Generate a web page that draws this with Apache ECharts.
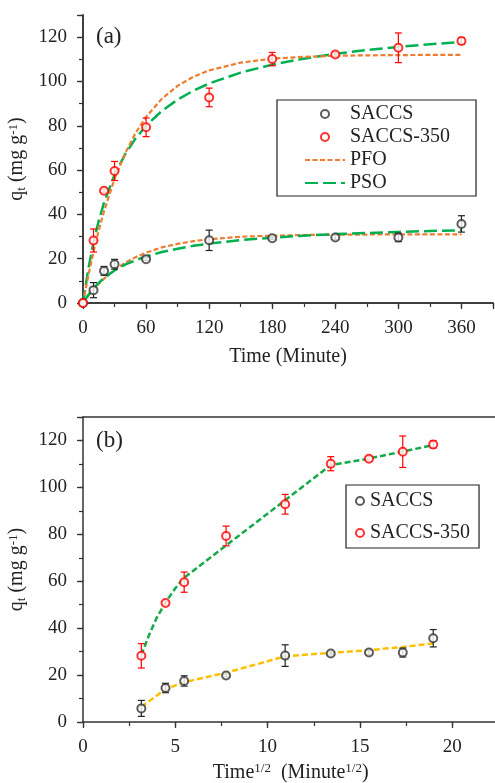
<!DOCTYPE html>
<html><head><meta charset="utf-8">
<script src="https://cdn.jsdelivr.net/npm/echarts@6/dist/echarts.min.js"></script>
<style>html,body{margin:0;padding:0;background:#fff}#c{width:495px;height:783px}</style>
</head><body><div id="c"></div>
<script>
// ---- data ----
const timeMin = [0, 10, 20, 30, 60, 120, 180, 240, 300, 360];
const saccsQ = [0, 5.8, 14.5, 17.5, 19.8, 28.3, 29.2, 29.6, 29.6, 35.7];
const saccsErr = [0, 3.4, 2.0, 2.2, 0.6, 4.6, 0.6, 0.9, 1.9, 3.7];
const saccs350Q = [0, 28.2, 50.7, 59.6, 79.3, 92.8, 110.1, 112.2, 115.2, 118.3];
const saccs350Err = [0, 5.2, 0.8, 4.3, 4.2, 4.2, 3.0, 1.0, 6.7, 1.5];

// fitted curves
const fitTime = [0, 5, 10, 15, 20, 30, 40, 50, 60, 75, 90, 105, 120, 150, 180, 210, 240, 270, 300, 330, 360];
const pfoSaccs = [0, 3.2, 6.1, 8.7, 11.0, 15.0, 18.1, 20.7, 22.7, 25.1, 26.7, 27.9, 28.8, 29.9, 30.4, 30.7, 30.8, 30.9, 31.0, 31.0, 31.0];
const psoSaccs = [0, 3.6, 6.6, 9.1, 11.3, 14.7, 17.3, 19.3, 21.0, 23.0, 24.5, 25.8, 26.8, 28.4, 29.5, 30.4, 31.1, 31.6, 32.1, 32.5, 32.8];
const pfoSaccs350 = [0, 12.2, 23.1, 32.8, 41.4, 56.0, 67.5, 76.7, 84.0, 92.2, 98.0, 102.1, 105.0, 108.5, 110.3, 111.1, 111.6, 111.8, 111.9, 112.0, 112.0];
const psoSaccs350 = [0, 15.3, 27.4, 37.2, 45.3, 57.8, 67.1, 74.3, 80.0, 86.7, 91.8, 95.8, 99.1, 104.0, 107.6, 110.3, 112.5, 114.2, 115.6, 116.8, 117.8];

// panel (b): square root of time
const sqrtTime = [3.16, 4.47, 5.48, 7.75, 10.95, 13.42, 15.49, 17.32, 18.97];
const saccsQb = [5.8, 14.5, 17.5, 19.8, 28.3, 29.2, 29.6, 29.6, 35.7];
const saccsErrb = [3.4, 2.0, 2.2, 0.6, 4.6, 0.6, 0.9, 1.9, 3.7];
const saccs350Qb = [28.2, 50.7, 59.6, 79.3, 92.8, 110.1, 112.2, 115.2, 118.3];
const saccs350Errb = [5.2, 0.8, 4.3, 4.2, 4.2, 3.0, 1.0, 6.7, 1.5];
const ipdX350 = [3.16, 3.6, 4.0, 4.47, 5.0, 5.48, 13.42, 15.49, 17.32, 18.97];
const ipdY350 = [28.5, 37.5, 44.5, 51.0, 57.0, 61.5, 109.5, 112.3, 115.3, 118.0];
const ipdXSaccs = [3.16, 4.47, 5.48, 7.75, 10.95, 13.42, 15.49, 17.32, 18.97];
const ipdYSaccs = [6.5, 14.0, 17.0, 21.0, 28.0, 29.5, 30.6, 32.0, 33.5];

const yTicks = [0, 20, 40, 60, 80, 100, 120];

// ---- helpers ----
const FONT = '"Liberation Serif", "Times New Roman", serif';
const zip = (a, b) => a.map((v, i) => [v, b[i]]);
const zip3 = (a, b, c) => a.map((v, i) => [v, b[i], c[i]]);

function errRender(color) {
  return function (params, api) {
    const x = api.value(0), y = api.value(1), e = api.value(2);
    if (!e) return null;
    const t = api.coord([x, y + e]), b = api.coord([x, y - e]);
    const w = 3.5, st = { stroke: color, lineWidth: 1.2 };
    return { type: 'group', children: [
      { type: 'line', shape: { x1: t[0], y1: t[1], x2: b[0], y2: b[1] }, style: st },
      { type: 'line', shape: { x1: t[0] - w, y1: t[1], x2: t[0] + w, y2: t[1] }, style: st },
      { type: 'line', shape: { x1: b[0] - w, y1: b[1], x2: b[0] + w, y2: b[1] }, style: st }
    ]};
  };
}

const axLine = { show: true, lineStyle: { color: '#333', width: 1.5 } };
const labelStyle = { color: '#222', fontSize: 19, fontFamily: FONT };

function mainX(grid, max, interval, name, gap, hideAbove) {
  return { type: 'value', gridIndex: grid, position: 'bottom', min: 0, max: max, interval: interval,
    axisLine: axLine, splitLine: { show: false },
    axisTick: { show: true, length: 6, lineStyle: { color: '#333', width: 1.3 } },
    axisLabel: Object.assign({ margin: 16, formatter: v => (v > hideAbove ? '' : String(v)) }, labelStyle),
    name: name, nameLocation: 'middle', nameGap: gap,
    nameTextStyle: { color: '#222', fontSize: 20, fontFamily: FONT,
      rich: { a: { fontSize: 20, fontFamily: FONT, color: '#222' }, p: { fontSize: 13, fontFamily: FONT, color: '#222', padding: [0, 0, 8, 0] } } } };
}
function minorX(grid, max, interval) {
  return { type: 'value', gridIndex: grid, position: 'bottom', min: 0, max: max, interval: interval,
    axisLine: { show: false }, splitLine: { show: false }, axisLabel: { show: false },
    axisTick: { show: true, length: 4, lineStyle: { color: '#333', width: 1.2 } } };
}
function borderX(grid, max) {
  return { type: 'value', gridIndex: grid, position: 'top', min: 0, max: max,
    axisLine: axLine, splitLine: { show: false }, axisLabel: { show: false }, axisTick: { show: false } };
}
function mainY(grid) {
  return { type: 'value', gridIndex: grid, position: 'left', min: 0, max: 130, interval: 20,
    axisLine: axLine, splitLine: { show: false },
    axisTick: { show: true, length: 6, lineStyle: { color: '#333', width: 1.3 } },
    axisLabel: Object.assign({ margin: 16, formatter: v => (yTicks.indexOf(v) >= 0 ? String(v) : '') }, labelStyle),
    name: '{a|q}{s|t}{a| (mg g}{p|-1}{a|)}', nameLocation: 'middle', nameGap: 49,
    nameTextStyle: { color: '#222', fontFamily: FONT,
      rich: { a: { fontSize: 20, fontFamily: FONT, color: '#222' },
              s: { fontSize: 13, fontFamily: FONT, color: '#222', padding: [8, 0, 0, 0] },
              p: { fontSize: 13, fontFamily: FONT, color: '#222', padding: [0, 0, 8, 0] } } } };
}
function minorY(grid) {
  return { type: 'value', gridIndex: grid, position: 'left', min: 0, max: 130, interval: 10,
    axisLine: { show: false }, splitLine: { show: false }, axisLabel: { show: false },
    axisTick: { show: true, length: 4, lineStyle: { color: '#333', width: 1.2 } } };
}
function borderY(grid) {
  return { type: 'value', gridIndex: grid, position: 'right', min: 0, max: 130,
    axisLine: axLine, splitLine: { show: false }, axisLabel: { show: false }, axisTick: { show: false } };
}

const scatterBase = (name, data, color, xi, yi) => ({
  name: name, type: 'scatter', xAxisIndex: xi, yAxisIndex: yi, data: data,
  symbol: 'emptyCircle', symbolSize: 8, z: 4,
  itemStyle: { color: color, borderColor: color, borderWidth: 1 }
});
const errSeries = (data, color, xi, yi) => ({
  type: 'custom', xAxisIndex: xi, yAxisIndex: yi, data: data, renderItem: errRender(color),
  encode: { x: 0, y: 1 }, z: 3, silent: true
});
const lineSeries = (name, data, color, dash, width, xi, yi) => ({
  name: name, type: 'line', xAxisIndex: xi, yAxisIndex: yi, data: data, symbol: 'none',
  smooth: false, z: 2, lineStyle: { color: color, type: dash, width: width }, itemStyle: { color: color }
});

const PFO_C = '#ED7D31', PSO_C = '#00B050', GOLD = '#FFC000', GREEN_B = '#16A94A';

const option = {
  animation: false,
  backgroundColor: '#fff',
  grid: [
    { left: 83, top: 15, width: 410, height: 288, outerBoundsMode: 'none', containLabel: false },
    { left: 83, top: 417, width: 415.4, height: 305, outerBoundsMode: 'none', containLabel: false }
  ],
  xAxis: [
    mainX(0, 390, 60, 'Time (Minute)', 44, 360),
    minorX(0, 390, 30),
    borderX(0, 390),
    mainX(1, 22.5, 5, '{a|Time}{p|1/2}{a|  (Minute}{p|1/2}{a|)}', 40, 20),
    minorX(1, 22.5, 2.5),
    borderX(1, 22.5)
  ],
  yAxis: [mainY(0), minorY(0), borderY(0), mainY(1), minorY(1)],
  legend: [
    { left: 277, top: 100, orient: 'vertical', itemWidth: 40, itemHeight: 8, itemGap: 3,
      padding: [4, 26, 3, 27], borderColor: '#222', borderWidth: 1.2, backgroundColor: '#fff',
      textStyle: { fontSize: 20, fontFamily: FONT, color: '#222', lineHeight: 20 },
      data: ['SACCS', 'SACCS-350',
        { name: 'PFO', itemStyle: { opacity: 0 } },
        { name: 'PSO', itemStyle: { opacity: 0 } }] },
    { left: 346, top: 485, orient: 'vertical', itemWidth: 10, itemHeight: 8, itemGap: 12,
      padding: [6, 9, 5, 9], borderColor: '#222', borderWidth: 1.2, backgroundColor: '#fff',
      textStyle: { fontSize: 20, fontFamily: FONT, color: '#222', lineHeight: 20 },
      data: ['SACCS', 'SACCS-350'] }
  ],
  graphic: [
    { type: 'text', left: 96, top: 25, style: { text: '(a)', fontSize: 23, fontFamily: FONT, fill: '#222' } },
    { type: 'text', left: 96, top: 429, style: { text: '(b)', fontSize: 23, fontFamily: FONT, fill: '#222' } }
  ],
  series: [
    lineSeries('PFO', zip(fitTime, pfoSaccs), PFO_C, [5, 2.5], 2.2, 0, 0),
    lineSeries('PSO', zip(fitTime, psoSaccs), PSO_C, [13, 5], 2.5, 0, 0),
    lineSeries('PSO', zip(fitTime, psoSaccs350), PSO_C, [13, 5], 2.5, 0, 0),
    lineSeries('PFO', zip(fitTime, pfoSaccs350), PFO_C, [5, 2.5], 2.2, 0, 0),
    errSeries(zip3(timeMin, saccsQ, saccsErr), '#222', 0, 0),
    errSeries(zip3(timeMin, saccs350Q, saccs350Err), '#FF0000', 0, 0),
    scatterBase('SACCS', zip(timeMin, saccsQ), '#333', 0, 0),
    scatterBase('SACCS-350', zip(timeMin, saccs350Q), '#FF0000', 0, 0),

    lineSeries('IPD-350', zip(ipdX350, ipdY350), GREEN_B, [6, 3], 2.5, 3, 3),
    lineSeries('IPD-SACCS', zip(ipdXSaccs, ipdYSaccs), GOLD, [6, 3], 2.5, 3, 3),
    errSeries(zip3(sqrtTime, saccsQb, saccsErrb), '#222', 3, 3),
    errSeries(zip3(sqrtTime, saccs350Qb, saccs350Errb), '#FF0000', 3, 3),
    scatterBase('SACCS', zip(sqrtTime, saccsQb), '#333', 3, 3),
    scatterBase('SACCS-350', zip(sqrtTime, saccs350Qb), '#FF0000', 3, 3)
  ]
};

const chart = echarts.init(document.getElementById('c'), null, { renderer: 'canvas' });
chart.setOption(option);
</script></body></html>
